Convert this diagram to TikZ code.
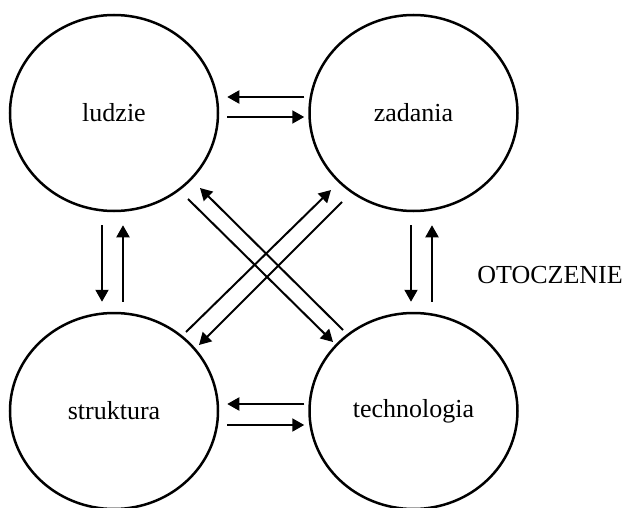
\documentclass[tikz,border=0pt]{standalone}
\usepackage{fontspec}
\setmainfont{Liberation Serif}
\usetikzlibrary{shapes.geometric,arrows.meta,calc}
\begin{document}
\begin{tikzpicture}[x=1pt,y=-1pt,
  blob/.style={ellipse,draw,line width=2.5pt,minimum width=208pt,minimum height=196pt,inner sep=0pt,font=\fontsize{26pt}{30pt}\selectfont},
  arr/.style={line width=2pt,-{Triangle[length=12pt,width=13pt]}},
  lbl/.style={font=\fontsize{26pt}{30pt}\selectfont,inner sep=0pt}]
\useasboundingbox (0,0) rectangle (627,508);
\node[blob] (a) at (114,113) {ludzie};
\node[blob] (b) at (413.5,113) {zadania};
\node[blob] (c) at (114,411) {struktura};
\node[blob] (d) at (413.5,411) {technologia};
\node[lbl] (env) at (550,275) {OTOCZENIE};
% top horizontals
\draw[arr] ([shift={(-4,-16)}]b.west) -- ([shift={(8,-16)}]a.east);
\draw[arr] ([shift={(8,4)}]a.east) -- ([shift={(-4,4)}]b.west);
% bottom horizontals
\draw[arr] ([shift={(-4,-7)}]d.west) -- ([shift={(8,-7)}]c.east);
\draw[arr] ([shift={(8,14)}]c.east) -- ([shift={(-4,14)}]d.west);
% left verticals
\draw[arr] ([shift={(-12,13)}]a.south) -- ([shift={(-12,-10)}]c.north);
\draw[arr] ([shift={(9,-10)}]c.north) -- ([shift={(9,13)}]a.south);
% right verticals
\draw[arr] ([shift={(-2.5,13)}]b.south) -- ([shift={(-2.5,-10)}]d.north);
\draw[arr] ([shift={(18.5,-10)}]d.north) -- ([shift={(18.5,13)}]b.south);
% diagonals
\draw[arr] ([shift={(74,86)}]a.center) -- ([shift={(-80.5,-69)}]d.center);
\draw[arr] ([shift={(-70.5,-81)}]d.center) -- ([shift={(86,75)}]a.center);
\draw[arr] ([shift={(72,-79)}]c.center) -- ([shift={(-82.5,77)}]b.center);
\draw[arr] ([shift={(-71.5,89)}]b.center) -- ([shift={(85,-66)}]c.center);
\end{tikzpicture}
\end{document}
